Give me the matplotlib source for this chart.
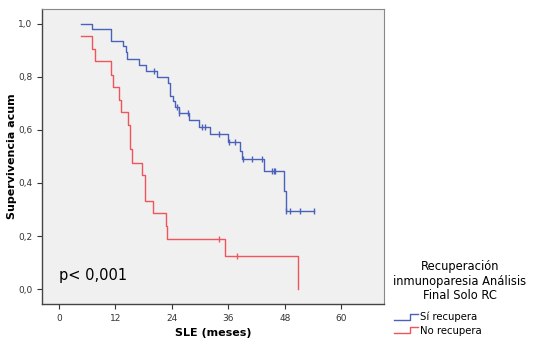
import numpy as np
import matplotlib.pyplot as plt
from matplotlib.legend_handler import HandlerBase
from matplotlib.lines import Line2D

# Kaplan-Meier steps (months, survival)
si_t = [4.6, 7.1, 11.0, 13.7, 14.3, 14.5, 17.1, 18.5, 20.8, 23.1, 23.6, 24.2, 24.6,
        25.6, 27.6, 29.7, 32.2, 35.9, 38.5, 38.8, 43.5, 47.9, 48.2, 54.3]
si_s = [1.0, 0.979, 0.934, 0.915, 0.894, 0.867, 0.846, 0.823, 0.800, 0.777, 0.727,
        0.708, 0.687, 0.662, 0.637, 0.612, 0.583, 0.555, 0.520, 0.489, 0.444, 0.370,
        0.296, 0.296]
si_cens_t = [20.3, 25.1, 25.6, 27.4, 30.5, 31.0, 34.0, 36.2, 37.5, 39.2, 41.1, 43.1,
             45.2, 45.6, 46.0, 48.2, 49.1, 51.3, 54.3]

no_t = [4.6, 7.1, 7.6, 11.0, 11.5, 12.8, 13.2, 14.7, 15.2, 15.5, 17.6, 18.3, 19.9,
        22.7, 23.0, 35.2, 50.9]
no_s = [0.952, 0.905, 0.858, 0.808, 0.762, 0.714, 0.667, 0.617, 0.526, 0.476, 0.429,
        0.332, 0.286, 0.238, 0.190, 0.125, 0.0]
no_cens_t = [34.1, 37.8]

blue = "#4a62bb"
red = "#f0555c"


def surv_at(times, surv, x):
    i = np.searchsorted(times, x, side="right") - 1
    return surv[i]


class StepHandler(HandlerBase):
    # little step glyph like the SPSS legend
    def create_artists(self, legend, orig_handle, xdescent, ydescent,
                       width, height, fontsize, trans):
        xs = [0, width * 0.68, width * 0.68, width]
        ys = [height * 0.1, height * 0.1, height * 0.9, height * 0.9]
        ln = Line2D(xs, ys, color=orig_handle.get_color(), lw=1.0, transform=trans)
        return [ln]


fig = plt.figure(figsize=(5.5, 3.4), dpi=100)
ax = fig.add_axes([0.0764, 0.106, 0.622, 0.868])
ax.set_facecolor("#f0f0f0")

l1, = ax.step(si_t, si_s, where="post", color=blue, lw=1.0)
ax.plot(si_cens_t, [surv_at(si_t, si_s, x) for x in si_cens_t], ls="none",
        marker="|", ms=5, mew=1.0, color=blue)
l2, = ax.step(no_t, no_s, where="post", color=red, lw=1.0)
ax.plot(no_cens_t, [surv_at(no_t, no_s, x) for x in no_cens_t], ls="none",
        marker="|", ms=5, mew=1.0, color=red)

ax.set_xlim(-3.6, 69.1)
ax.set_ylim(-0.056, 1.056)
ax.set_xticks([0, 12, 24, 36, 48, 60])
ax.set_yticks([0, 0.2, 0.4, 0.6, 0.8, 1.0])
ax.set_yticklabels(["0,0", "0,2", "0,4", "0,6", "0,8", "1,0"])
ax.tick_params(labelsize=6.5, labelcolor="#333333", length=3.5, width=0.8, color="#333333")
for s in ["top", "right"]:
    ax.spines[s].set_color("#888888")
    ax.spines[s].set_linewidth(0.8)
for s in ["left", "bottom"]:
    ax.spines[s].set_color("#444444")
    ax.spines[s].set_linewidth(1.0)

ax.set_xlabel("SLE (meses)", fontsize=8, fontweight="bold", labelpad=4)
ax.set_ylabel("Supervivencia acum", fontsize=8, fontweight="bold", labelpad=1)
ax.text(0, 0.052, "p< 0,001", fontsize=10.5, ha="left", va="center")

fig.text(0.836, 0.1735, "Recuperación\ninmunoparesia Análisis\nFinal Solo RC",
         ha="center", va="center", fontsize=8.3, linespacing=1.15)
fig.legend([l1, l2], ["Sí recupera", "No recupera"], loc="upper left",
           bbox_to_anchor=(0.716, 0.083), frameon=False, fontsize=7.3,
           handler_map={Line2D: StepHandler()}, handlelength=2.4, handletextpad=0.15,
           labelspacing=0.35, borderaxespad=0, borderpad=0)

fig.savefig("out.png", dpi=100, facecolor="white")
